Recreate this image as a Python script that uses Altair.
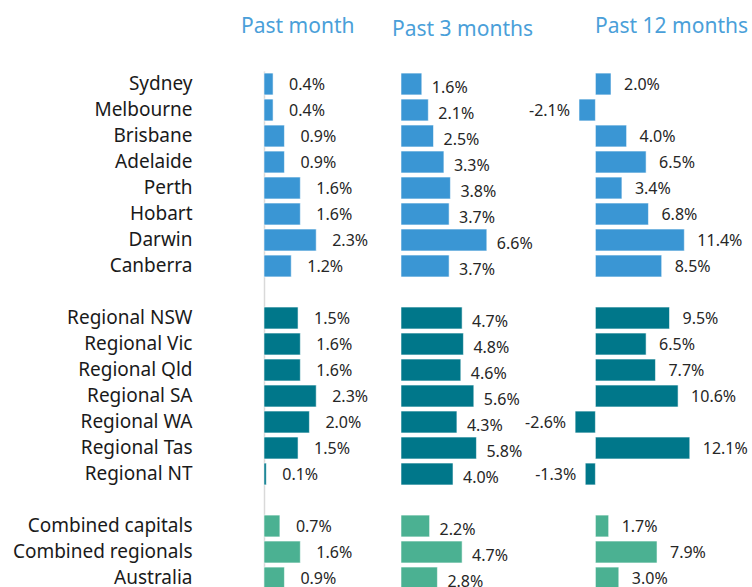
import altair as alt
import pandas as pd

regions = ["Sydney", "Melbourne", "Brisbane", "Adelaide", "Perth", "Hobart", "Darwin", "Canberra",
           "Regional NSW", "Regional Vic", "Regional Qld", "Regional SA", "Regional WA", "Regional Tas", "Regional NT",
           "Combined capitals", "Combined regionals", "Australia"]
groups = ["Capitals"] * 8 + ["Regionals"] * 7 + ["Combined"] * 3
past_month = [0.4, 0.4, 0.9, 0.9, 1.6, 1.6, 2.3, 1.2,
              1.5, 1.6, 1.6, 2.3, 2.0, 1.5, 0.1,
              0.7, 1.6, 0.9]
past_3_months = [1.6, 2.1, 2.5, 3.3, 3.8, 3.7, 6.6, 3.7,
                 4.7, 4.8, 4.6, 5.6, 4.3, 5.8, 4.0,
                 2.2, 4.7, 2.8]
past_12_months = [2.0, -2.1, 4.0, 6.5, 3.4, 6.8, 11.4, 8.5,
                  9.5, 6.5, 7.7, 10.6, -2.6, 12.1, -1.3,
                  1.7, 7.9, 3.0]
column_titles = ["Past month", "Past 3 months", "Past 12 months"]
group_names = ["Capitals", "Regionals", "Combined"]
group_colors = ["#3A96D4", "#00778A", "#4BB192"]

row_order = regions[:8] + [" "] + regions[8:15] + ["  "] + regions[15:]

FONT = "Noto Sans"
TEXT_COLOR = "#262626"


def panel(values, title, width, domain, dx_pos, dx_neg, dy_text, title_dx, title_offset, show_axis):
    df = pd.DataFrame({"region": regions, "group": groups, "value": values})
    base = alt.Chart(df).transform_calculate(
        label="(datum.value < 0 ? '-' : '') + format(abs(datum.value), '.1f') + '%'"
    )
    if show_axis:
        yaxis = alt.Axis(title=None, domain=True, domainColor="#d9d9d9", domainWidth=1.5,
                         ticks=False, grid=False, labelPadding=72, labelFont=FONT,
                         labelFontSize=19, labelColor="#1a1a1a", labelLimit=400)
    else:
        yaxis = None
    y = alt.Y("region:N", sort=row_order,
              scale=alt.Scale(domain=row_order, paddingInner=0.16, paddingOuter=0.08),
              axis=yaxis)
    x = alt.X("value:Q", scale=alt.Scale(domain=domain, nice=False, zero=True), axis=None)
    bars = base.mark_bar(stroke="white", strokeOpacity=0.55, strokeWidth=1).encode(
        x=x, y=y,
        color=alt.Color("group:N", scale=alt.Scale(domain=group_names, range=group_colors), legend=None),
    )
    pos = base.transform_filter("datum.value >= 0").mark_text(
        align="left", baseline="middle", dx=dx_pos, dy=dy_text, font=FONT, fontSize=16, color=TEXT_COLOR
    ).encode(x=x, y=y, text="label:N")
    neg = base.transform_filter("datum.value < 0").mark_text(
        align="right", baseline="middle", dx=-dx_neg, dy=dy_text, font=FONT, fontSize=16, color=TEXT_COLOR
    ).encode(x=x, y=y, text="label:N")
    return alt.layer(bars, pos, neg).properties(
        width=width, height=520,
        title=alt.TitleParams(title, anchor="start", dx=title_dx, offset=title_offset,
                              baseline="alphabetic", font=FONT, fontSize=21, fontWeight="normal",
                              color="#4A9FD9", frame="group"),
    )


p1 = panel(past_month, column_titles[0], 137, [0, 6.035], 16, 10, 1, -23, 17, True)
p2 = panel(past_3_months, column_titles[1], 171, [0, 13.15], 10, 10, 4, -9, 14, False)
p3 = panel(past_12_months, column_titles[2], 178, [-3, 19.82], 13, 9, 1, 23, 17, False)

chart = alt.hconcat(p1, p2, p3, spacing=0, bounds="flush").resolve_scale(
    x="independent", y="independent"
).configure_view(stroke=None).properties(
    padding={"left": 12, "top": 16, "right": 0, "bottom": 0},
    background="white",
)

chart.save("out.html", embed_options={"renderer": "svg", "actions": False})
